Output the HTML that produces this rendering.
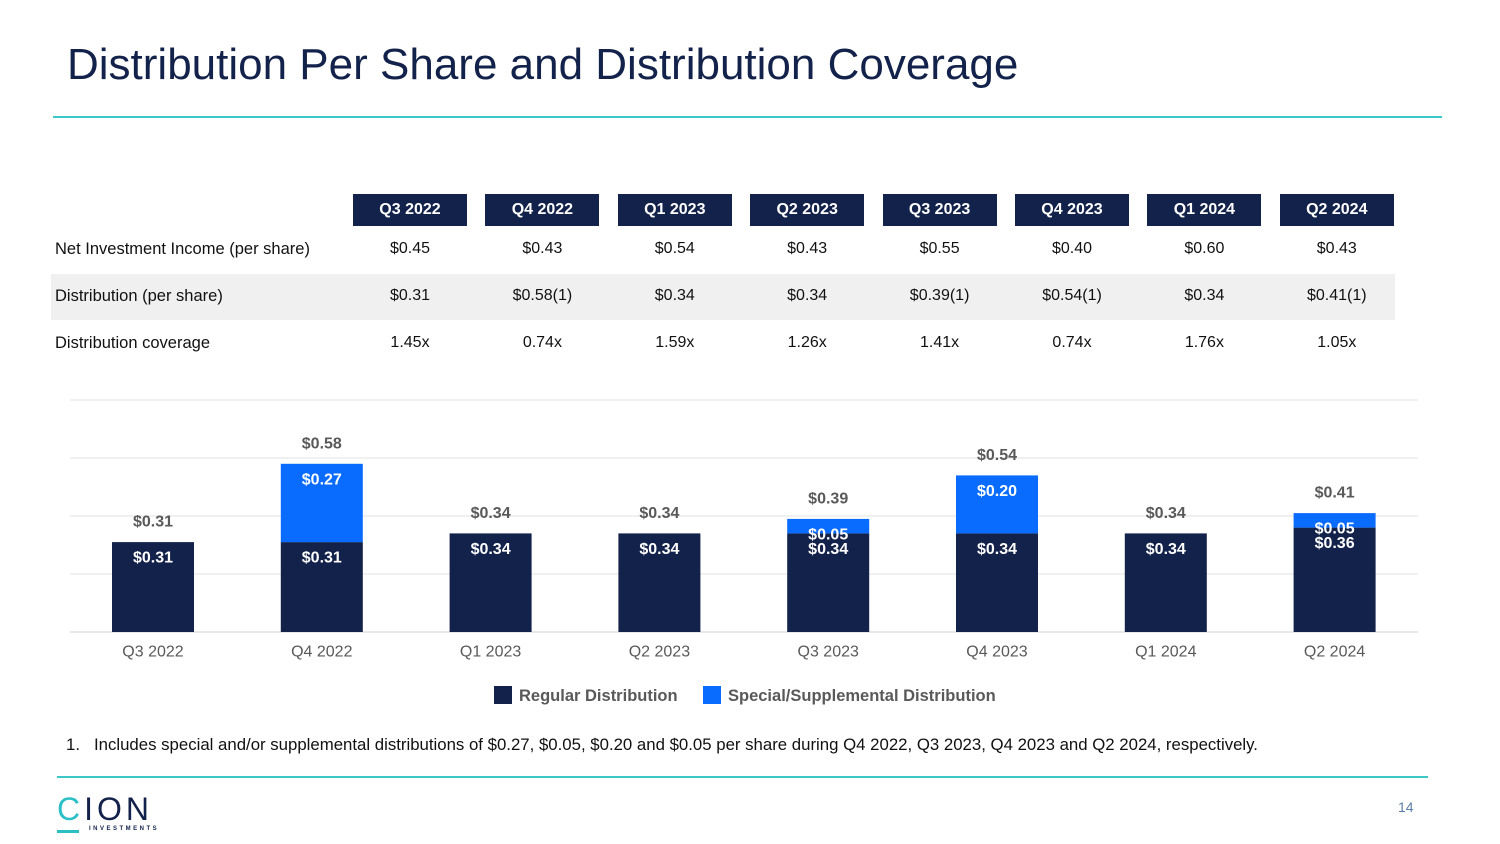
<!DOCTYPE html>
<html><head><meta charset="utf-8"><style>
body{margin:0;width:1500px;height:844px;background:#fff;font-family:"Liberation Sans",sans-serif;position:relative;overflow:hidden}
.a{position:absolute}
.hdr{position:absolute;top:194px;width:114px;height:32px;background:#13224a;color:#fff;font-weight:bold;font-size:16px;line-height:32px;text-align:center}
.cell{position:absolute;width:114px;text-align:center;font-size:16px;color:#111}
.lab{position:absolute;font-size:16.5px;color:#111;left:55px}
</style></head><body>
<div class="a" style="left:67px;top:40px;font-size:44px;color:#13224a">Distribution Per Share and Distribution Coverage</div>
<div class="a" style="left:53px;top:116px;width:1389px;height:2px;background:#3cc8c8"></div>
<div class="a" style="left:51px;top:274px;width:1344px;height:46px;background:#f0f0f0"></div>
<div id="table"></div>
<div class="lab" style="top:240px">Net Investment Income (per share)</div>
<div class="lab" style="top:287px">Distribution (per share)</div>
<div class="lab" style="top:334px">Distribution coverage</div>
<svg class="a" id="chart" style="left:0;top:0" width="1500" height="844"></svg>
<div class="a" style="left:66px;top:735px;font-size:16.8px;color:#111">1.&nbsp;&nbsp;&nbsp;Includes special and/or supplemental distributions of $0.27, $0.05, $0.20 and $0.05 per share during Q4 2022, Q3 2023, Q4 2023 and Q2 2024, respectively.</div>
<div class="a" style="left:57px;top:776px;width:1371px;height:2px;background:#3cc8c8"></div>
<div class="a" style="left:57px;top:792px">
 <div style="font-size:32px;color:#13224a;letter-spacing:4px;line-height:34px"><span style="color:#2bbfc6">C</span>ION</div>
 <div style="position:absolute;left:0;top:38px;width:22px;height:3px;background:#2bbfc6"></div>
 <div style="position:absolute;left:32px;top:34px;font-size:6px;letter-spacing:2.5px;color:#13224a;font-weight:bold">INVESTMENTS</div>
</div>
<div class="a" style="left:1398px;top:799px;font-size:14px;color:#5b7fa8">14</div>
<script>
const quarters=["Q3 2022","Q4 2022","Q1 2023","Q2 2023","Q3 2023","Q4 2023","Q1 2024","Q2 2024"];
const niiRow=["$0.45","$0.43","$0.54","$0.43","$0.55","$0.40","$0.60","$0.43"];
const distRow=["$0.31","$0.58(1)","$0.34","$0.34","$0.39(1)","$0.54(1)","$0.34","$0.41(1)"];
const covRow=["1.45x","0.74x","1.59x","1.26x","1.41x","0.74x","1.76x","1.05x"];
const regular=[0.31,0.31,0.34,0.34,0.34,0.34,0.34,0.36];
const special=[0,0.27,0,0,0.05,0.20,0,0.05];
const totals=[0.31,0.58,0.34,0.34,0.39,0.54,0.34,0.41];
const yTicks=[0,0.2,0.4,0.6,0.8];

const tbl=document.getElementById('table');
quarters.forEach((q,i)=>{
  const x=353+i*132.4;
  const h=document.createElement('div');h.className='hdr';h.style.left=x+'px';h.textContent=q;
  
  
  tbl.appendChild(h);
  [[niiRow,240,'nii'],[distRow,287,'dist'],[covRow,334,'coverage']].forEach(([arr,y,n])=>{
    const c=document.createElement('div');c.className='cell';c.style.left=x+'px';c.style.top=y+'px';c.textContent=arr[i];
    
    
    tbl.appendChild(c);
  });
});

const svg=document.getElementById('chart');const NS='http://www.w3.org/2000/svg';
const base=632,scale=290;
const yS=v=>base-v*scale;
const xS=i=>153+i*168.8;
function mk(t,a,name){const e=document.createElementNS(NS,t);for(const k in a)e.setAttribute(k,a[k]);
 
 
 svg.appendChild(e);return e;}
function tx(x,y,s,fill,name,size,bold){const e=mk('text',{x:x,y:y,'text-anchor':'middle','dominant-baseline':'central','font-size':size||16,'font-weight':bold?'bold':'normal',fill:fill,'font-family':'Liberation Sans, sans-serif'},name);e.textContent=s;return e;}
yTicks.forEach((t,i)=>mk('line',{x1:70,x2:1418,y1:yS(t),y2:yS(t),stroke:i==0?'#d9d9d9':'#e6e6e6','stroke-width':1.2},'gridline-'+i));
const bw=82;
quarters.forEach((q,i)=>{
  const cx=xS(i);
  mk('rect',{x:cx-bw/2,y:yS(regular[i]),width:bw,height:regular[i]*scale,fill:'#13224a'},'bar-regular-'+i);
  tx(cx,yS(regular[i])+16,'$'+regular[i].toFixed(2),'#fff','label-regular-'+i,16,true);
  if(special[i]>0){
    const top=yS(regular[i]+special[i]);
    mk('rect',{x:cx-bw/2,y:top,width:bw,height:special[i]*scale,fill:'#0a6cff'},'bar-special-'+i);
    tx(cx,top+16,'$'+special[i].toFixed(2),'#fff','label-special-'+i,16,true);
  }
  tx(cx,yS(totals[i])-20,'$'+totals[i].toFixed(2),'#595959','label-total-'+i,16,true);
  tx(cx,652,q,'#595959','x-tick-'+i,16,false);
});
mk('rect',{x:494,y:686,width:18,height:18,fill:'#13224a'},'legend-swatch-regular');
const l1=mk('text',{x:519,y:696,'dominant-baseline':'central','font-size':16.5,'font-weight':'bold',fill:'#595959','font-family':'Liberation Sans, sans-serif'},'legend-label-regular');l1.textContent='Regular Distribution';
mk('rect',{x:703,y:686,width:18,height:18,fill:'#0a6cff'},'legend-swatch-special');
const l2=mk('text',{x:728,y:696,'dominant-baseline':'central','font-size':16.5,'font-weight':'bold',fill:'#595959','font-family':'Liberation Sans, sans-serif'},'legend-label-special');l2.textContent='Special/Supplemental Distribution';
</script>
</body></html>
